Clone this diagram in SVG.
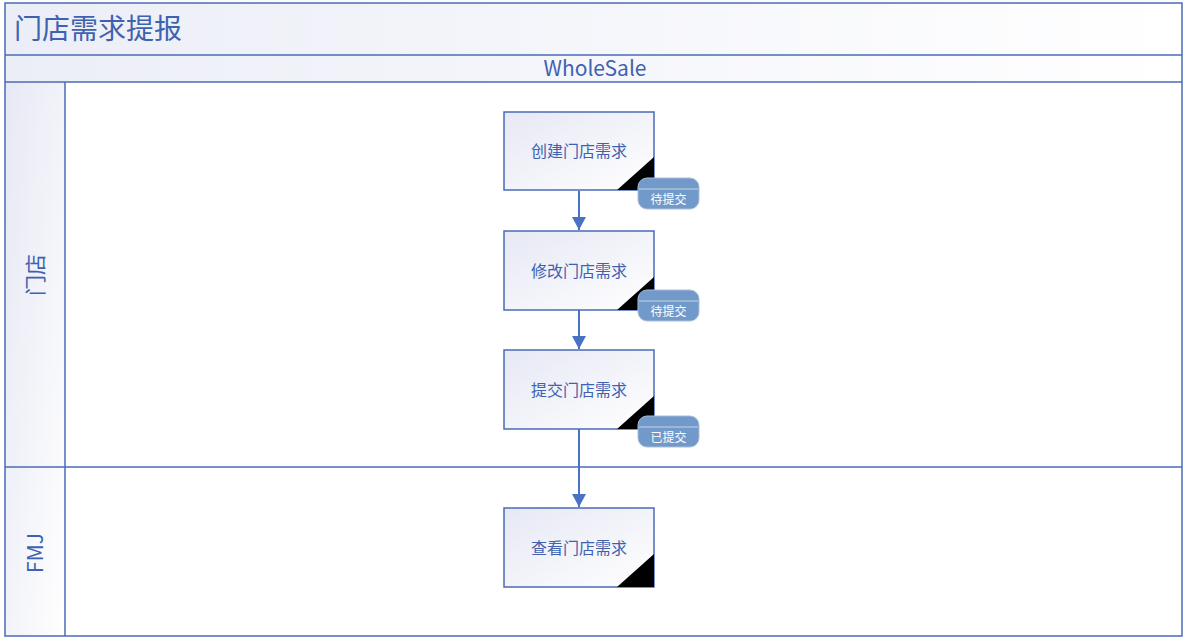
<svg xmlns="http://www.w3.org/2000/svg" width="1183" height="637" viewBox="0 0 1183 637">
<defs>
<linearGradient id="g" x1="0" y1="0" x2="1" y2="1">
<stop offset="0" stop-color="#e6e8f4"/>
<stop offset="1" stop-color="#ffffff"/>
</linearGradient>
<linearGradient id="gt" x1="0" y1="0" x2="1" y2="0">
<stop offset="0" stop-color="#eceef7"/>
<stop offset="1" stop-color="#ffffff"/>
</linearGradient>
<marker id="ah" markerWidth="14" markerHeight="14" refX="13" refY="7" orient="auto" markerUnits="userSpaceOnUse">
<path d="M0,0 L13,7 L0,14 Z" fill="#4a72c4"/>
</marker>
<style>
.ln{fill:none;stroke:#4a6bb8;stroke-width:1.5}
.box{fill:url(#g);stroke:#4a6bb8;stroke-width:1.5}
.lt{font-family:"Noto Sans CJK SC","Liberation Sans",sans-serif;fill:#3f62b0}
.nt{font-family:"Noto Sans CJK SC","Liberation Sans",sans-serif;font-size:16px;fill:#3f62b0;text-anchor:middle}
.bd{fill:#7199c9;stroke:#a9bedb;stroke-width:1}
.bt{font-family:"Noto Sans CJK SC","Liberation Sans",sans-serif;font-size:12px;fill:#ffffff;text-anchor:middle}
.conn{stroke:#4a72c4;stroke-width:2;fill:none}
</style>
</defs>
<g id="pool">
<rect x="5" y="3" width="1177" height="633" fill="url(#gt)" stroke="none"/>
<rect x="65" y="82" width="1117" height="554" fill="#ffffff"/>
<rect x="5" y="82" width="60" height="554" fill="url(#g)"/>
<rect x="5" y="3" width="1177" height="633" class="ln"/>
<line x1="5" y1="55" x2="1182" y2="55" class="ln"/>
<line x1="5" y1="82" x2="1182" y2="82" class="ln"/>
<line x1="5" y1="467" x2="1182" y2="467" class="ln"/>
<line x1="65" y1="82" x2="65" y2="636" class="ln"/>
<text x="14" y="39" class="lt" font-size="28">门店需求提报</text>
<text x="595" y="76" class="lt" font-size="21" text-anchor="middle">WholeSale</text>
<text transform="translate(43,275) rotate(-90)" class="lt" font-size="21" text-anchor="middle">门店</text>
<text transform="translate(43,553) rotate(-90)" class="lt" font-size="21" text-anchor="middle">FMJ</text>
</g>
<g id="connectors">
<line x1="579" y1="191" x2="579" y2="230" class="conn" marker-end="url(#ah)"/>
<line x1="579" y1="310" x2="579" y2="349" class="conn" marker-end="url(#ah)"/>
<line x1="579" y1="429" x2="579" y2="507" class="conn" marker-end="url(#ah)"/>
</g>
<g id="n1">
<rect x="504" y="112" width="150" height="78" class="box"/>
<path d="M654,157 L654,190 L617,190 Z" fill="#000"/>
<text x="579" y="157" class="nt">创建门店需求</text>
<rect x="638" y="178" width="61" height="31" rx="9" class="bd"/>
<line x1="639" y1="189" x2="698" y2="189" stroke="#c4d3e8" stroke-width="1"/>
<text x="668.5" y="204" class="bt">待提交</text>
</g>
<g id="n2">
<rect x="504" y="231" width="150" height="79" class="box"/>
<path d="M654,277 L654,310 L617,310 Z" fill="#000"/>
<text x="579" y="277" class="nt">修改门店需求</text>
<rect x="638" y="290" width="61" height="31" rx="9" class="bd"/>
<line x1="639" y1="301" x2="698" y2="301" stroke="#c4d3e8" stroke-width="1"/>
<text x="668.5" y="316" class="bt">待提交</text>
</g>
<g id="n3">
<rect x="504" y="350" width="150" height="79" class="box"/>
<path d="M654,396 L654,429 L617,429 Z" fill="#000"/>
<text x="579" y="396" class="nt">提交门店需求</text>
<rect x="638" y="416" width="61" height="31" rx="9" class="bd"/>
<line x1="639" y1="427" x2="698" y2="427" stroke="#c4d3e8" stroke-width="1"/>
<text x="668.5" y="442" class="bt">已提交</text>
</g>
<g id="n4">
<rect x="504" y="508" width="150" height="79" class="box"/>
<path d="M654,554 L654,587 L617,587 Z" fill="#000"/>
<text x="579" y="554" class="nt">查看门店需求</text>
</g>
</svg>
